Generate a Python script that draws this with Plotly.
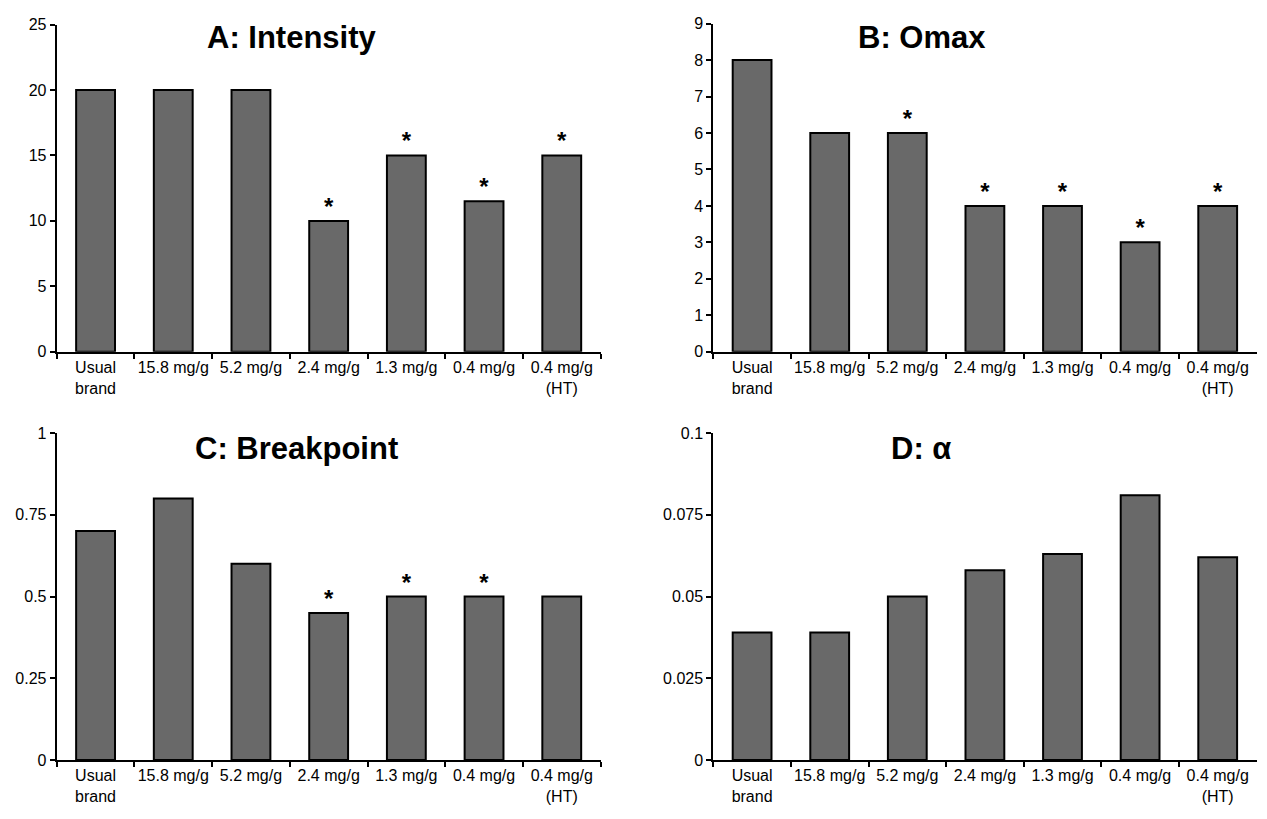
import plotly.graph_objects as go

categories = ["Usual<br>brand", "15.8 mg/g", "5.2 mg/g", "2.4 mg/g", "1.3 mg/g", "0.4 mg/g", "0.4 mg/g<br>(HT)"]

intensity = [20, 20, 20, 10, 15, 11.5, 15]
omax = [8, 6, 6, 4, 4, 3, 4]
breakpoint = [0.7, 0.8, 0.6, 0.45, 0.5, 0.5, 0.5]
alpha = [0.039, 0.039, 0.050, 0.058, 0.063, 0.081, 0.062]

sig_intensity = [0, 0, 0, 1, 1, 1, 1]
sig_omax = [0, 0, 1, 1, 1, 1, 1]
sig_breakpoint = [0, 0, 0, 1, 1, 1, 0]
sig_alpha = [0, 0, 0, 0, 0, 0, 0]

titles = ["A: Intensity", "B: Omax", "C: Breakpoint", "D: α"]
y_ranges = [[0, 25], [0, 9], [0, 1], [0, 0.1]]
y_dticks = [5, 1, 0.25, 0.025]

W, H = 1267, 819
FONT = "Liberation Sans, Arial, sans-serif"

panels = [
    (intensity, sig_intensity),
    (omax, sig_omax),
    (breakpoint, sig_breakpoint),
    (alpha, sig_alpha),
]

# plot-area pixel boxes: (x0, x1, ytop, ybottom)
boxes = [
    (56.7, 600.6, 17, 351),
    (713.3, 1256.5, 16, 351),
    (56.7, 600.6, 434, 768),
    (713.3, 1256.5, 434, 768),
]
title_pos = [(292, 30), (922, 30), (296, 450), (921, 450)]

fig = go.Figure()
layout = dict(
    width=W, height=H,
    margin=dict(l=0, r=0, t=0, b=0),
    paper_bgcolor="white", plot_bgcolor="white",
    showlegend=False,
    font=dict(family=FONT, size=16, color="black"),
)
annotations = []

for i, ((vals, sig), box) in enumerate(zip(panels, boxes)):
    n = i + 1
    xa = "x" if n == 1 else f"x{n}"
    ya = "y" if n == 1 else f"y{n}"
    fig.add_trace(go.Bar(
        x=categories, y=vals, xaxis=xa, yaxis=ya,
        width=0.5,
        marker=dict(color="#696969", line=dict(color="black", width=2)),
        hoverinfo="skip",
    ))
    sx = [c for c, s in zip(categories, sig) if s]
    sy = [v for v, s in zip(vals, sig) if s]
    if sx:
        fig.add_trace(go.Scatter(
            x=sx, y=sy, xaxis=xa, yaxis=ya, mode="text",
            text=["<b>*</b>"] * len(sx), textposition="top center",
            textfont=dict(family=FONT, size=24, color="black"),
            cliponaxis=False, hoverinfo="skip",
        ))
    x0, x1, yt, yb = box
    xkey = "xaxis" if n == 1 else f"xaxis{n}"
    ykey = "yaxis" if n == 1 else f"yaxis{n}"
    layout[xkey] = dict(
        domain=[x0 / W, x1 / W], anchor=ya, type="category",
        range=[-0.5, 6.5], tickson="boundaries",
        ticks="outside", ticklen=5, tickwidth=2, tickcolor="black",
        showline=True, linewidth=2, linecolor="black",
        showgrid=False, zeroline=False,
        tickfont=dict(family=FONT, size=16, color="black"),
        tickangle=0, fixedrange=True,
    )
    layout[ykey] = dict(
        domain=[1 - yb / H, 1 - yt / H], anchor=xa,
        range=y_ranges[i], dtick=y_dticks[i], tick0=0,
        ticks="outside", ticklen=5, tickwidth=2, tickcolor="black",
        showline=True, linewidth=2, linecolor="black",
        showgrid=False, zeroline=False,
        tickfont=dict(family=FONT, size=16, color="black"),
        fixedrange=True,
    )
    tx, ty = title_pos[i]
    annotations.append(dict(
        text=f"<b>{titles[i]}</b>", x=tx / W, y=1 - ty / H,
        xref="paper", yref="paper", xanchor="center", yanchor="middle",
        showarrow=False, font=dict(family=FONT, size=31, color="black"),
    ))

layout["annotations"] = annotations
fig.update_layout(**layout)
fig.write_html("out.html")
